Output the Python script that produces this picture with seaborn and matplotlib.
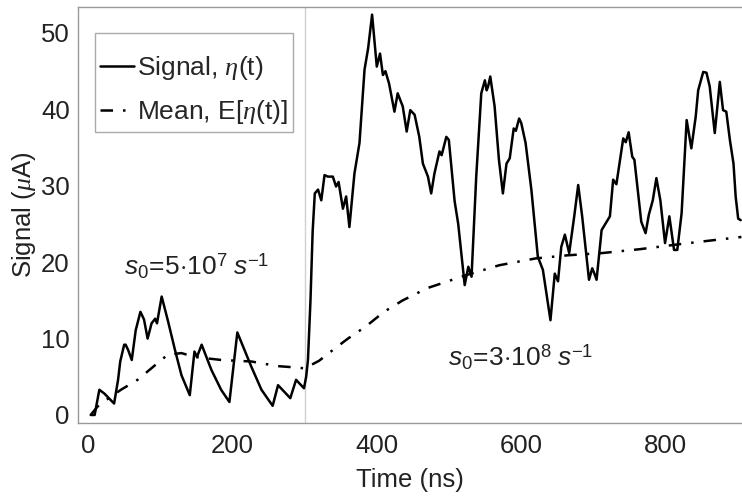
import matplotlib
matplotlib.use("Agg")
import matplotlib.pyplot as plt
from matplotlib.patches import Rectangle
import seaborn as sns
import pandas as pd

# Time axis (ns) and detector signal (uA)
signal_t = [3, 8.5, 15, 22, 35.5, 41, 44, 49.5, 51.5, 55, 60, 65.5, 72, 77, 82, 87.5,
            92.5, 95, 101.5, 110, 120, 129, 140.5, 147, 150.5, 157, 170.5, 184, 195.5,
            206.5, 226, 240, 255.5, 263, 270, 280, 288, 292, 299, 302, 304.5, 308, 311,
            314, 318.5, 323, 327.5, 332, 339, 343.5, 347, 353, 357.5, 362, 369, 376,
            383, 388, 393.5, 400, 404.5, 408.5, 412, 417, 424.5, 429, 436, 441.5, 446.5,
            452.5, 459, 464, 471, 475.5, 480, 487, 490, 496.5, 500, 508, 513, 522, 527,
            531.5, 538, 545, 550, 552.5, 554.5, 557.5, 563.5, 569.5, 575, 580, 584.5,
            590, 593, 597.5, 600.5, 606.5, 614.5, 623.5, 630.5, 641, 647, 651.5, 656,
            661, 667, 674, 679.5, 685, 694.5, 699, 702, 705, 712, 719, 723.5, 728,
            732.5, 737.5, 742, 745.5, 749.5, 754.5, 757.5, 767, 773, 777.5, 783, 788,
            793.5, 800, 806, 812.5, 817, 823, 830, 836.5, 842.5, 846, 853, 857.5, 862,
            869, 876, 880.5, 885, 890, 895, 898, 901.5, 905]
signal_v = [0, 0, 3.3, 2.8, 1.5, 4.6, 7.0, 9.2, 9.2, 8.5, 7.2, 11.1, 13.5, 12.5, 10, 12,
            12.6, 12, 15.5, 12.4, 8.5, 5.2, 2.6, 8.3, 7.6, 9.2, 5.9, 3.3, 1.7,
            10.8, 6.3, 3.3, 1.2, 3.9, 3.2, 2.2, 4.6, 4.2, 3.5, 5.0, 7.2, 15, 24,
            29, 29.5, 28.1, 31.4, 31.2, 31.2, 29.9, 30.5, 27, 28.6, 24.6, 31.6, 35.6,
            45.2, 48, 52.4, 45.6, 47.3, 44.5, 45, 43.4, 39.7, 42.1, 40.4, 37.1, 39.9,
            39.3, 36.4, 32.9, 31.2, 29, 31.6, 34.5, 34, 36.4, 36, 28, 25, 17, 19.4,
            18.1, 31.2, 42.1, 43.8, 42.5, 43.0, 44.3, 40.4, 33.4, 29, 32.9, 33.6,
            37.5, 37.2, 38.8, 38.2, 35.6, 29.5, 20.7, 19, 12.4, 18.5, 17.5, 22,
            23.6, 21.2, 26, 30.1, 26, 17.7, 19.2, 18.5, 17.7, 24.2, 25.3, 26, 30.8,
            30.2, 33.4, 36.2, 35.7, 37, 33.8, 33.4, 25.3, 23.8, 26.2, 28.1, 31,
            28.1, 22.5, 26, 21.6, 21.6, 26.4, 38.6, 34.9, 39, 42.5, 44.9, 44.8, 43,
            36.9, 43.6, 39.9, 39.7, 36, 32.9, 28.6, 25.7, 25.5]

# Expected (mean) signal
mean_t = [3, 12.5, 25, 45, 68, 96, 110, 129, 147, 184, 226, 262, 290, 300, 320, 339,
          360, 385, 410, 436, 470, 524, 570, 621, 665, 713.5, 765, 815.5, 860, 906]
mean_v = [0, 1.1, 2.0, 3.3, 4.6, 6.8, 7.9, 8.1, 7.6, 7.2, 7.0, 6.4, 6.2, 6.1, 7.1, 8.5,
          10, 11.6, 13.5, 15, 16.6, 18.3, 19.6, 20.5, 20.9, 21.2, 21.7, 22.3, 22.8, 23.3]

switch_time = 300
rate_labels = [r"$\mathsf{s}_0\!=\!5{\cdot}10^7\ \mathsf{s}^{-1}$",
               r"$\mathsf{s}_0\!=\!3{\cdot}10^8\ \mathsf{s}^{-1}$"]
rate_pos_t = [150, 600]
rate_pos_v = [19.4, 7.5]

sns.set_theme(style="white")
plt.rcParams["font.family"] = ["Liberation Sans", "DejaVu Sans"]
plt.rcParams["mathtext.fontset"] = "custom"
plt.rcParams["mathtext.rm"] = "Liberation Sans"
plt.rcParams["mathtext.it"] = "Liberation Serif:italic"
plt.rcParams["mathtext.sf"] = "Liberation Sans:italic"

df_sig = pd.DataFrame({"t": signal_t, "v": signal_v})
df_mean = pd.DataFrame({"t": mean_t, "v": mean_v})

fig = plt.figure(figsize=(7.42, 4.98), dpi=100)
ax = fig.add_axes([78 / 742, 75 / 498, 664 / 742, 416 / 498])

ax.axvline(switch_time, color="#d0d0d0", lw=1.0, zorder=1)
sns.lineplot(data=df_sig, x="t", y="v", ax=ax, color="black", lw=1.8,
             label=r"Signal, $\eta$(t)", sort=False, zorder=3)
sns.lineplot(data=df_mean, x="t", y="v", ax=ax, color="black", lw=1.8,
             linestyle=(0, (5, 4, 1, 4)), label=r"Mean, E[$\eta$(t)]",
             sort=False, zorder=2)

for lab, tx, vy in zip(rate_labels, rate_pos_t, rate_pos_v):
    ax.text(tx, vy, lab, fontsize=19, ha="center", va="center", color="#222222")

ax.set_xlim(-14.6, 906.8)
ax.set_ylim(-1.05, 53.4)
ax.set_xticks([0, 200, 400, 600, 800])
ax.set_yticks([0, 10, 20, 30, 40, 50])
ax.tick_params(axis="both", labelsize=18.5, length=0, colors="#222222")
ax.tick_params(axis="y", pad=6)
ax.tick_params(axis="x", pad=8)
ax.set_xlabel("Time (ns)", fontsize=18.5, color="#222222", labelpad=7)
ax.set_ylabel(r"Signal ($\mu$A)", fontsize=18.5, color="#222222", labelpad=2)

for side in ["left", "bottom", "top"]:
    ax.spines[side].set_color("#999999")
    ax.spines[side].set_linewidth(1.0)
ax.spines["right"].set_visible(False)

# Legend entries without their own frame; the box is drawn separately
ax.legend(loc="upper left", bbox_to_anchor=(0.033, 0.887), fontsize=19,
          frameon=False, handlelength=1.3, handletextpad=0.12,
          borderpad=0, labelspacing=0.62, borderaxespad=0)
ax.add_patch(Rectangle((0.0256, 0.6995), 0.2982, 0.238, transform=ax.transAxes,
                       fill=False, edgecolor="#aaaaaa", lw=1.0, zorder=4))

fig.savefig("out.png", dpi=100)
